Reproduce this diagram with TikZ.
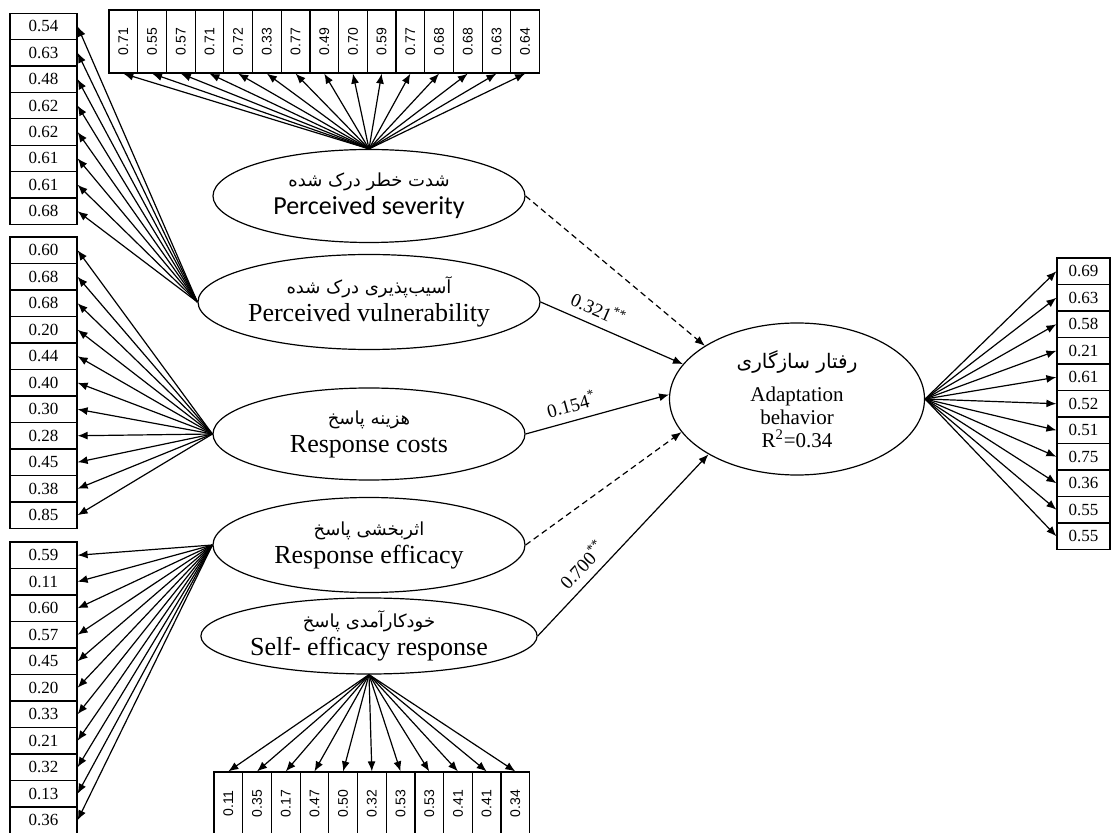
\documentclass[tikz,border=0pt]{standalone}
\usepackage{fontspec}
\setmainfont{Liberation Serif}
\newfontfamily\farsi[Script=Arabic]{DejaVu Sans}
\newfontfamily\calibri{Carlito}
\newfontfamily\arialnum{Liberation Sans}
\TeXXeTstate=1
\usetikzlibrary{shapes,arrows.meta}
\tikzset{%
	latent/.style  = {draw, ellipse, line width=0.6pt, minimum width=156pt,
		minimum height=47pt, inner sep=0pt, align=center,
		font=\fontsize{13}{14}\selectfont}, % Latent variable
	indbox/.style  = {draw, rectangle, line width=0.6pt, minimum width=33.5pt,
		minimum height=13.25pt, inner sep=0pt, font=\fontsize{8.5}{9}\selectfont}, % Indicator
	indrot/.style  = {draw, rectangle, line width=0.6pt, minimum width=14.35pt,
		minimum height=31.5pt, inner sep=0pt, font=\arialnum\fontsize{7}{8}\selectfont}, % Rotated indicator
	load/.style    = {line width=0.6pt, -{Latex[length=5pt,width=4pt]}},
	coef/.style    = {sloped, above=4pt, inner sep=0pt, font=\fontsize{9.5}{10}\selectfont}
}
\newcommand{\faline}[1]{{\farsi\fontsize{9}{11}\selectfont\beginR #1\endR}}

\begin{document}
\begin{tikzpicture}[x=0.5pt,y=-0.5pt]
	\useasboundingbox (0,0) rectangle (1113,833);
	\clip (0,0) rectangle (1113,833);

	% latent variables
	\node[latent, minimum height=46.5pt] (sev)  at (369,196) {\faline{شدت خطر درک شده}\\{\calibri Perceived severity}};
	\node[latent, minimum height=47.5pt] (vul)  at (369,302) {\faline{آسیب‌پذیری درک شده}\\Perceived vulnerability};
	\node[latent, minimum height=46pt]   (cost) at (369,434) {\faline{هزینه پاسخ}\\Response costs};
	\node[latent, minimum height=47.5pt] (eff)  at (369,545) {\faline{اثربخشی پاسخ}\\Response efficacy};
	\node[latent, minimum height=38pt]   (self) at (369,636) {\faline{خودکارآمدی پاسخ}\\Self- efficacy response};
	\node[latent, minimum width=127.5pt, minimum height=76pt, font=\fontsize{10.5}{11.5}\selectfont]
		(adapt) at (797,399) {{\farsi\fontsize{10}{11}\selectfont\beginR رفتار سازگاری\endR}\\[5pt]Adaptation\\behavior\\R\textsuperscript{2}=0.34};

	% indicators
	\foreach \v [count=\i] in {0.71,0.55,0.57,0.71,0.72,0.33,0.77,0.49,0.70,0.59,0.77,0.68,0.68,0.63,0.64}
		\node[indrot] (ps\i) at ({94.65+28.7*\i},41.5) {\rotatebox{90}{\v}};
	\foreach \v [count=\i] in {0.54,0.63,0.48,0.62,0.62,0.61,0.61,0.68}
		\node[indbox, minimum height=13.2pt] (pv\i) at (43.5,{0+26.4*\i}) {\v};
	\foreach \v [count=\i] in {0.60,0.68,0.68,0.20,0.44,0.40,0.30,0.28,0.45,0.38,0.85}
		\node[indbox] (rc\i) at (43.5,{223.75+26.5*\i}) {\v};
	\foreach \v [count=\i] in {0.59,0.11,0.60,0.57,0.45,0.20,0.33,0.21,0.32,0.13,0.36}
		\node[indbox] (re\i) at (43.5,{528.75+26.5*\i}) {\v};
	\foreach \v [count=\i] in {0.11,0.35,0.17,0.47,0.50,0.32,0.53,0.53,0.41,0.41,0.34}
		\node[indrot] (se\i) at ({199.65+28.7*\i},803.5) {\rotatebox{90}{\v}};
	\foreach \v [count=\i] in {0.69,0.63,0.58,0.21,0.61,0.52,0.51,0.75,0.36,0.55,0.55}
		\node[indbox, minimum width=26.5pt] (ab\i) at (1083.5,{244.75+26.5*\i}) {\v};

	% loadings
	\foreach \i in {1,...,15} \draw[load] (sev.north) -- (ps\i.south);
	\foreach \i in {1,...,8} \draw[load] (vul.west) -- (pv\i.east);
	\foreach \i in {1,...,11} \draw[load] (cost.west) -- (rc\i.east);
	\foreach \i in {1,...,11} \draw[load] (eff.west) -- (re\i.east);
	\foreach \i in {1,...,11} \draw[load] (self.south) -- (se\i.north);
	\foreach \i in {1,...,11} \draw[load] (adapt.east) -- (ab\i.west);

	% paths
	\draw[load, dash pattern=on 3pt off 2pt] (sev.east) -- (adapt.150);
	\draw[load] (vul.east) -- node[coef, pos=0.36] {0.321\textsuperscript{**}} (adapt.163);
	\draw[load] (cost.east) -- node[coef, pos=0.35] {0.154\textsuperscript{*}} (adapt.178);
	\draw[load, dash pattern=on 3pt off 2pt] (eff.east) -- (adapt.196);
	\draw[load] (self.east) -- node[coef, pos=0.33] {0.700\textsuperscript{**}} (adapt.212);
\end{tikzpicture}
\end{document}
